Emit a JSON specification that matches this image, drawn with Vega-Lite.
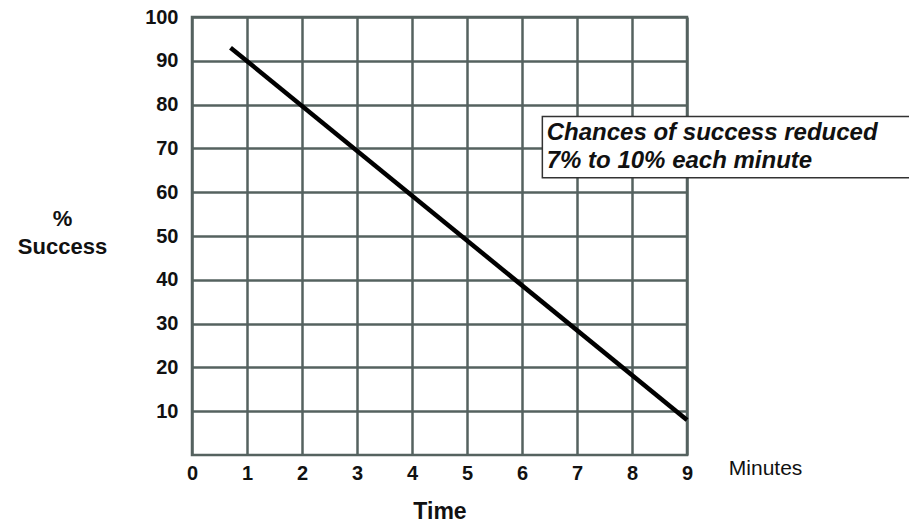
{
  "$schema": "https://vega.github.io/schema/vega-lite/v6.json",
  "width": 495,
  "height": 438,
  "autosize": {"type": "none"},
  "padding": {"left": 192, "top": 17, "right": 222, "bottom": 68},
  "background": "white",
  "config": {
    "font": "Liberation Sans",
    "view": {"stroke": "#55625f", "strokeWidth": 2.5}
  },
  "datasets": {
    "line": [
      {"time": 0.7, "success": 93},
      {"time": 9, "success": 8}
    ],
    "box": [
      {"x": 6.37, "x2": 13.2, "y": 77.3, "y2": 63.3}
    ],
    "note": [
      {"x": 6.45, "y": 73.6, "text": "Chances of success reduced"},
      {"x": 6.45, "y": 67.2, "text": "7% to 10% each minute"}
    ],
    "unit": [
      {"x": 9.76, "y": -3.3, "text": "Minutes"}
    ]
  },
  "layer": [
    {
      "data": {"name": "line"},
      "mark": {"type": "line", "color": "black", "strokeWidth": 4.5, "strokeCap": "butt"},
      "encoding": {
        "x": {
          "field": "time", "type": "quantitative",
          "scale": {"domain": [0, 9], "nice": false, "zero": false},
          "axis": {
            "values": [0,1,2,3,4,5,6,7,8,9],
            "format": "d",
            "labelFlush": false,
            "title": "Time",
            "titleFont": "Liberation Sans",
            "titleFontSize": 23,
            "titleFontWeight": "bold",
            "titleColor": "#111111",
            "titlePadding": 17,
            "labelFont": "Liberation Sans",
            "labelFontSize": 20,
            "labelFontWeight": "bold",
            "labelColor": "#111111",
            "labelPadding": 8,
            "ticks": false,
            "domain": false,
            "gridColor": "#55625f",
            "gridWidth": 2.5,
            "gridOpacity": 1
          }
        },
        "y": {
          "field": "success", "type": "quantitative",
          "scale": {"domain": [0, 100], "nice": false},
          "axis": {
            "values": [10,20,30,40,50,60,70,80,90,100],
            "format": "d",
            "labelFlush": false,
            "title": ["%", "Success"],
            "titleAngle": 0,
            "titleAlign": "center",
            "titleBaseline": "middle",
            "titleLineHeight": 28,
            "titleX": -130,
            "titleY": 201,
            "titleFont": "Liberation Sans",
            "titleFontSize": 22,
            "titleFontWeight": "bold",
            "titleColor": "#111111",
            "labelFont": "Liberation Sans",
            "labelFontSize": 20,
            "labelFontWeight": "bold",
            "labelColor": "#111111",
            "labelPadding": 14,
            "ticks": false,
            "domain": false,
            "gridColor": "#55625f",
            "gridWidth": 2.5,
            "gridOpacity": 1
          }
        }
      }
    },
    {
      "data": {"name": "box"},
      "mark": {"type": "rect", "fill": "white", "stroke": "#333333", "strokeWidth": 1.5, "clip": false},
      "encoding": {
        "x": {"field": "x", "type": "quantitative"},
        "x2": {"field": "x2"},
        "y": {"field": "y", "type": "quantitative"},
        "y2": {"field": "y2"}
      }
    },
    {
      "data": {"name": "note"},
      "mark": {"type": "text", "align": "left", "baseline": "middle", "font": "Liberation Sans", "fontSize": 24, "fontWeight": "bold", "fontStyle": "italic", "color": "#111111", "clip": false},
      "encoding": {
        "x": {"field": "x", "type": "quantitative"},
        "y": {"field": "y", "type": "quantitative"},
        "text": {"field": "text"}
      }
    },
    {
      "data": {"name": "unit"},
      "mark": {"type": "text", "align": "left", "baseline": "middle", "font": "Liberation Sans", "fontSize": 21, "color": "#111111", "clip": false},
      "encoding": {
        "x": {"field": "x", "type": "quantitative"},
        "y": {"field": "y", "type": "quantitative"},
        "text": {"field": "text"}
      }
    }
  ]
}
